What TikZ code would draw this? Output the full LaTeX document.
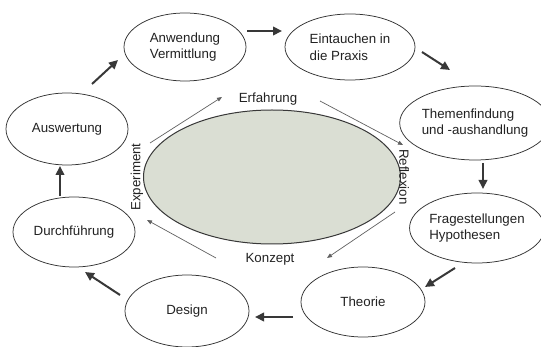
\documentclass[tikz,border=0pt]{standalone}
\usepackage{fontspec}
\setmainfont{Liberation Sans}
\usetikzlibrary{shapes.geometric,arrows.meta}
\definecolor{cenfill}{HTML}{DADED3}
\definecolor{ink}{HTML}{222222}
\begin{document}
\begin{tikzpicture}[x=1pt,y=-1pt,
  stage/.style={ellipse,draw=black!80,line width=0.75pt,inner sep=0pt,text=ink,
    font=\fontsize{13.3}{16.5}\selectfont,align=left},
  lbl/.style={font=\fontsize{13.3}{16}\selectfont,inner sep=0pt,text=ink},
  outarr/.style={draw=black!78,line width=2pt,-{Triangle[length=9pt,width=8.5pt]}},
  inarr/.style={draw=black!62,line width=0.7pt,-{Triangle[length=5pt,width=4pt]}}]
\useasboundingbox[fill=white] (0,0) rectangle (541,347);
% central ellipse
\node[ellipse,draw=black!78,fill=cenfill,line width=1pt,minimum width=257pt,minimum height=134pt,inner sep=0pt] (cen) at (272,177) {};
% outer stages
\node[stage,minimum width=122pt,minimum height=68pt] (anw) at (185,47) {Anwendung\\Vermittlung};
\node[stage,minimum width=130pt,minimum height=66pt] (ein) at (350,47) {Eintauchen in\\die Praxis};
\node[stage,minimum width=130pt,minimum height=74pt] (the) at (475,123) {Themenfindung\\und -aushandlung};
\node[stage,minimum width=120pt,minimum height=70pt] (fra) at (477,228) {Fragestellungen\\Hypothesen};
\node[stage,minimum width=124pt,minimum height=70pt] (theo) at (363,302) {Theorie};
\node[stage,minimum width=124pt,minimum height=72pt] (des) at (187,311) {Design};
\node[stage,minimum width=122pt,minimum height=70pt] (dur) at (74,232) {Durchführung};
\node[stage,minimum width=122pt,minimum height=72pt] (aus) at (67,129) {Auswertung};
% inner labels
\node[lbl] (erf) at (268,99) {Erfahrung};
\node[lbl] (kon) at (270,259) {Konzept};
\node[lbl,rotate=90] (exp) at (137,177) {Experiment};
\node[lbl,rotate=-90] (ref) at (404,177) {Reflexion};
% outer arrows
\draw[outarr] ([shift={(25,-45)}]aus.center) -- ([shift={(-67,13)}]anw.center);
\draw[outarr] ([shift={(62,-16)}]anw.center) -- ([shift={(-68,-16)}]ein.center);
\draw[outarr] ([shift={(72,5)}]ein.center) -- ([shift={(-25,-53)}]the.center);
\draw[outarr] ([shift={(8,40)}]the.center) -- ([shift={(6,-39)}]fra.center);
\draw[outarr] ([shift={(-22,40)}]fra.center) -- ([shift={(62,-15)}]theo.center);
\draw[outarr] ([shift={(-70,15)}]theo.center) -- ([shift={(68,6)}]des.center);
\draw[outarr] ([shift={(-67,-16)}]des.center) -- ([shift={(11,40)}]dur.center);
\draw[outarr] ([shift={(-14,-36)}]dur.center) -- ([shift={(-7,37)}]aus.center);
% inner arrows
\draw[inarr] ([shift={(13,-34)}]exp.center) -- ([shift={(-46,-2)}]erf.center);
\draw[inarr] ([shift={(52,2)}]erf.center) -- ([shift={(-1,-32)}]ref.center);
\draw[inarr] ([shift={(-9,35)}]ref.center) -- ([shift={(57,-1)}]kon.center);
\draw[inarr] ([shift={(-54,-1)}]kon.center) -- ([shift={(10,43)}]exp.center);
\end{tikzpicture}
\end{document}
